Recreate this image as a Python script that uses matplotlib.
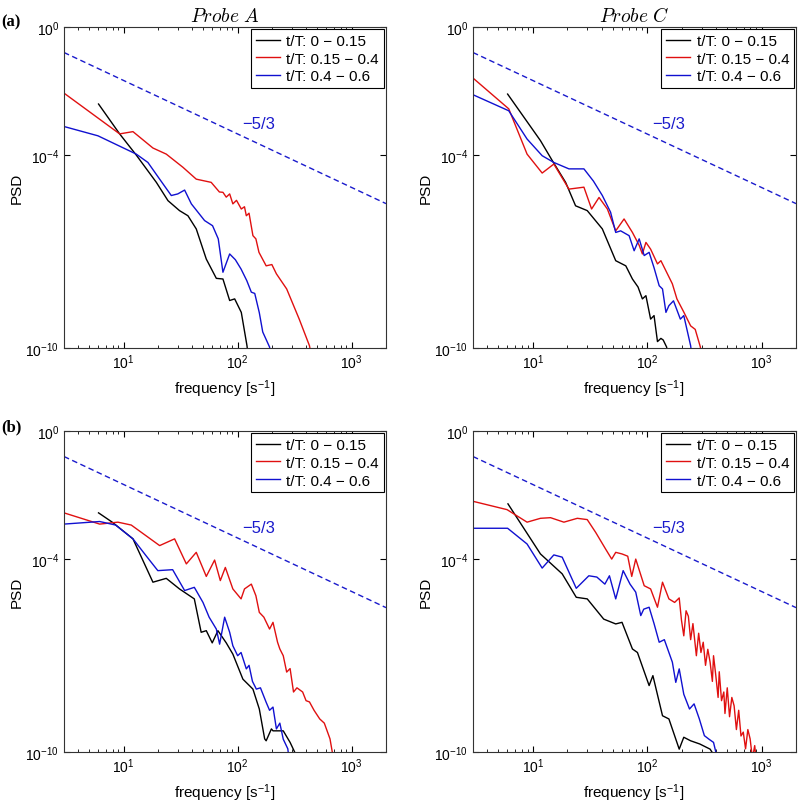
import matplotlib
matplotlib.use('Agg')
import matplotlib.pyplot as plt
from matplotlib.ticker import LogLocator, NullLocator
import numpy as np

plt.rcParams['font.family'] = ['Liberation Sans', 'DejaVu Sans']
plt.rcParams['mathtext.fontset'] = 'cm'

# all values as log10(frequency) and log10(PSD)
labels = ['t/T: 0 \u2212 0.15', 't/T: 0.15 \u2212 0.4', 't/T: 0.4 \u2212 0.6']
colors = ['k', '#e01010', '#1010d0']

# (a) Probe A
blackA_f = [0.78, 0.965, 1.111, 1.287, 1.389, 1.49, 1.564, 1.637, 1.725, 1.813, 1.871, 1.93, 1.974, 2.032, 2.082, 2.10]
blackA_p = [-2.40, -3.33, -3.99, -4.84, -5.41, -5.72, -5.88, -6.29, -7.23, -7.83, -7.85, -8.52, -8.47, -8.89, -9.93, -10.5]
redA_f = [0.477, 0.965, 1.082, 1.257, 1.374, 1.52, 1.637, 1.768, 1.84, 1.871, 1.90, 1.93, 1.958, 1.99, 2.032, 2.06, 2.076,
          2.10, 2.134, 2.16, 2.187, 2.25, 2.30, 2.34, 2.43, 2.54, 2.63, 2.66]
redA_p = [-2.06, -3.33, -3.26, -3.77, -3.96, -4.37, -4.74, -4.84, -5.14, -5.15, -5.30, -5.20, -5.51, -5.40, -5.67, -5.60, -5.88,
          -5.80, -6.50, -6.60, -7.02, -7.44, -7.40, -7.69, -8.16, -9.10, -9.93, -10.5]
blueA_f = [0.477, 0.775, 1.111, 1.213, 1.316, 1.418, 1.475, 1.535, 1.594, 1.71, 1.78, 1.83, 1.871, 1.93, 1.98, 2.03, 2.08,
           2.12, 2.15, 2.19, 2.22, 2.28, 2.30]
blueA_p = [-3.10, -3.39, -3.96, -4.22, -4.74, -5.25, -5.20, -5.08, -5.51, -6.03, -6.19, -6.60, -7.64, -7.07, -7.25, -7.54, -7.90,
           -8.26, -8.30, -8.90, -9.50, -9.97, -10.5]

# (a) Probe C
blackC_f = [0.78, 1.067, 1.17, 1.287, 1.374, 1.476, 1.608, 1.725, 1.813, 1.871, 1.92, 1.958, 1.989, 2.03, 2.06, 2.09, 2.12,
            2.14, 2.17, 2.19]
blackC_p = [-2.09, -3.54, -4.16, -4.84, -5.57, -5.72, -6.29, -7.28, -7.44, -7.85, -8.10, -8.47, -8.37, -9.10, -8.99, -9.80, -9.70,
            -9.75, -9.97, -10.5]
redC_f = [0.477, 0.79, 0.95, 1.082, 1.184, 1.316, 1.447, 1.514, 1.579, 1.652, 1.725, 1.798, 1.871, 1.93, 1.958, 1.989, 2.03,
          2.09, 2.12, 2.17, 2.22, 2.26, 2.32, 2.38, 2.42, 2.465, 2.48]
redC_p = [-1.59, -2.55, -3.96, -4.55, -4.27, -5.05, -4.99, -5.67, -5.31, -5.67, -6.35, -5.98, -6.40, -6.80, -7.07, -6.71, -6.92,
          -7.38, -7.28, -7.64, -8.00, -8.47, -8.88, -9.31, -9.42, -9.97, -10.5]
blueC_f = [0.477, 0.79, 0.95, 1.082, 1.184, 1.316, 1.447, 1.53, 1.608, 1.68, 1.725, 1.768, 1.842, 1.886, 1.93, 1.974, 2.017,
           2.06, 2.105, 2.134, 2.164, 2.19, 2.23, 2.29, 2.32, 2.38, 2.40]
blueC_p = [-2.11, -2.61, -3.49, -4.01, -4.22, -4.42, -4.42, -4.80, -5.25, -5.77, -6.40, -6.35, -6.50, -6.97, -6.60, -7.12, -7.02,
           -7.50, -8.06, -8.16, -8.89, -8.68, -8.53, -9.10, -8.99, -9.93, -10.5]

# (b) Probe A
blackB_f = [0.78, 0.9, 1.082, 1.257, 1.374, 1.49, 1.62, 1.68, 1.725, 1.777, 1.827, 1.90, 1.958, 2.046, 2.134, 2.19, 2.237,
            2.25, 2.296, 2.31, 2.40, 2.46, 2.50, 2.52]
blackB_p = [-2.55, -2.84, -3.36, -4.71, -4.59, -4.92, -5.23, -6.27, -6.22, -6.60, -6.22, -6.60, -6.95, -7.73, -8.04, -8.66, -9.59,
            -9.65, -9.28, -9.34, -9.34, -9.70, -10.0, -10.5]
redB_f = [0.477, 0.79, 0.95, 1.067, 1.316, 1.447, 1.55, 1.637, 1.725, 1.798, 1.848, 1.892, 1.958, 2.03, 2.06, 2.12, 2.16,
          2.19, 2.23, 2.28, 2.31, 2.35, 2.37, 2.40, 2.43, 2.46, 2.49, 2.52, 2.57, 2.60, 2.63, 2.67, 2.72, 2.76, 2.81, 2.83, 2.85]
redB_p = [-2.55, -2.90, -2.84, -2.93, -3.57, -3.36, -4.14, -3.78, -4.53, -4.02, -4.66, -4.25, -4.92, -5.23, -4.92, -4.77, -5.13,
          -5.65, -5.80, -6.17, -5.96, -6.58, -6.79, -7.00, -7.51, -7.40, -8.13, -8.00, -8.13, -8.40, -8.44, -8.70, -8.97, -9.10,
          -9.59, -10.0, -10.5]
blueB_f = [0.477, 0.79, 0.93, 1.082, 1.20, 1.30, 1.43, 1.535, 1.62, 1.696, 1.75, 1.813, 1.842, 1.886, 1.93, 1.958, 2.0, 2.03,
           2.076, 2.10, 2.13, 2.164, 2.20, 2.25, 2.28, 2.31, 2.34, 2.37, 2.40, 2.44, 2.46]
blueB_p = [-2.90, -2.82, -2.93, -3.36, -3.90, -4.35, -4.32, -4.97, -4.87, -5.34, -5.80, -6.17, -6.64, -5.80, -6.27, -6.69, -7.00,
           -6.90, -7.41, -7.30, -7.80, -8.04, -8.00, -8.45, -8.70, -8.60, -9.28, -9.10, -9.60, -9.90, -10.5]

# (b) Probe C
blackD_f = [0.783, 1.067, 1.257, 1.38, 1.476, 1.62, 1.725, 1.78, 1.871, 1.915, 2.017, 2.05, 2.134, 2.19, 2.28, 2.32, 2.38,
            2.46, 2.55, 2.62]
blackD_p = [-2.27, -3.83, -4.45, -5.18, -5.23, -5.86, -6.01, -5.96, -6.79, -6.90, -7.93, -7.62, -8.87, -8.97, -9.91, -9.54, -9.65,
            -9.75, -9.91, -10.3]
redD_f = [0.477, 0.775, 0.95, 1.067, 1.155, 1.272, 1.389, 1.476, 1.55, 1.637, 1.69, 1.725, 1.78, 1.83, 1.865, 1.90, 1.974,
          2.03, 2.09, 2.134, 2.19, 2.24, 2.28, 2.30, 2.32, 2.34, 2.36, 2.38, 2.40, 2.43, 2.45, 2.47, 2.49, 2.51, 2.53, 2.55,
          2.57, 2.58, 2.60, 2.62, 2.63, 2.65, 2.67, 2.68, 2.70, 2.72, 2.74, 2.76, 2.78, 2.80, 2.82, 2.84, 2.86, 2.88, 2.90,
          2.92, 2.94, 2.96]
redD_p = [-2.19, -2.45, -2.84, -2.72, -2.70, -2.84, -2.72, -2.76, -3.16, -3.68, -3.99, -3.78, -3.83, -3.90, -4.53, -3.99, -4.82,
          -4.92, -5.49, -4.71, -5.23, -5.34, -5.20, -5.90, -6.38, -5.60, -5.77, -6.50, -6.00, -7.00, -6.30, -6.90, -6.58, -7.30,
          -6.80, -7.20, -7.80, -7.00, -7.62, -8.30, -7.50, -8.40, -8.13, -8.80, -8.00, -8.90, -8.30, -8.56, -9.30, -8.70,
          -9.50, -9.38, -9.90, -9.30, -9.59, -10.2, -9.80, -10.5]
blueD_f = [0.477, 0.78, 0.95, 1.082, 1.184, 1.257, 1.38, 1.49, 1.56, 1.63, 1.67, 1.725, 1.79, 1.85, 1.90, 1.944, 1.97, 2.017,
           2.06, 2.105, 2.15, 2.19, 2.22, 2.25, 2.28, 2.32, 2.37, 2.41, 2.456, 2.50, 2.54, 2.58, 2.62]
blueD_p = [-3.03, -3.03, -3.52, -4.27, -3.86, -3.93, -4.90, -4.51, -4.55, -4.77, -4.51, -5.23, -4.35, -4.77, -5.02, -5.75, -5.55,
           -5.49, -6.00, -6.58, -6.50, -6.90, -7.20, -7.83, -7.41, -8.20, -8.66, -8.50, -8.97, -9.49, -9.60, -9.70, -10.3]

panels = [
    [(blackA_f, blackA_p), (redA_f, redA_p), (blueA_f, blueA_p)],
    [(blackC_f, blackC_p), (redC_f, redC_p), (blueC_f, blueC_p)],
    [(blackB_f, blackB_p), (redB_f, redB_p), (blueB_f, blueB_p)],
    [(blackD_f, blackD_p), (redD_f, redD_p), (blueD_f, blueD_p)],
]
titles = ['$Probe\\ A$', '$Probe\\ C$', '', '']

# -5/3 reference line
slope = -5.0 / 3.0
ref_f = np.array([3.0, 2000.0])

fig = plt.figure(figsize=(7.98, 8.04), dpi=100)
positions = [[0.0802, 0.5659, 0.4035, 0.3993], [0.5927, 0.5659, 0.4048, 0.3993],
             [0.0802, 0.0634, 0.4035, 0.3993], [0.5927, 0.0634, 0.4048, 0.3993]]

for k in range(4):
    ax = fig.add_axes(positions[k])
    for (f, p), c, lab in zip(panels[k], colors, labels):
        ax.loglog(10 ** np.array(f), 10 ** np.array(p), color=c, lw=1.0, label=lab)
    ax.loglog(ref_f, ref_f ** slope, '--', color='#1a1acc', lw=1.0, dashes=(4, 2.5))
    ax.text(110, 1e-3, '\u22125/3', color='#1a1acc', fontsize=12, ha='left', va='center')

    ax.set_xlim(3, 2000)
    ax.set_ylim(1e-10, 1)
    ax.set_yticks([1e-10, 1e-4, 1])
    ax.yaxis.set_minor_locator(NullLocator())
    ax.xaxis.set_minor_locator(LogLocator(base=10, subs=np.arange(2, 10)))
    ax.tick_params(which='both', direction='in', top=True, right=True, labelsize=10)
    ax.tick_params(which='major', length=4)
    ax.tick_params(which='minor', length=2)
    for s in ax.spines.values():
        s.set_linewidth(0.8)
        s.set_color('#333333')

    ax.set_xlabel('frequency [s$^{\\mathdefault{-1}}$]', fontsize=11, labelpad=4)
    ax.set_ylabel('PSD', fontsize=11, labelpad=1.5)
    if titles[k]:
        ax.set_title(titles[k], fontsize=14, pad=4)

    leg = ax.legend(loc='upper right', fontsize=11, fancybox=False, framealpha=1,
                    edgecolor='k', handlelength=1.6, handletextpad=0.4,
                    borderaxespad=0.15, labelspacing=0.25, borderpad=0.3)
    leg.get_frame().set_linewidth(0.8)

fig.text(0.002, 1 - 22 / 804, '(a)', fontsize=12, fontweight='bold', family='Liberation Serif', va='center')
fig.text(0.002, 1 - 427 / 804, '(b)', fontsize=12, fontweight='bold', family='Liberation Serif', va='center')

fig.savefig('out.png', dpi=100)
